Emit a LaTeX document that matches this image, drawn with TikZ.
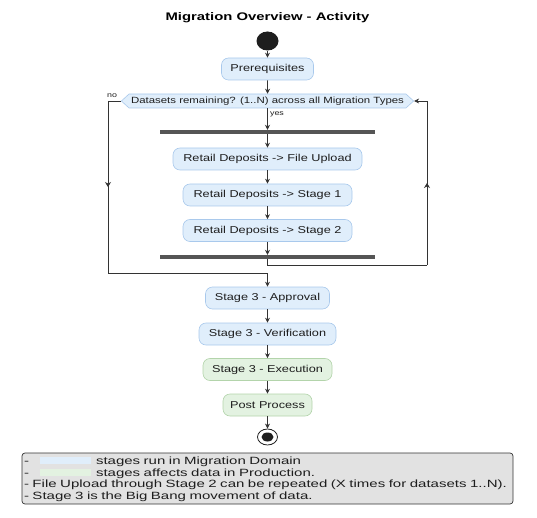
\documentclass[tikz,border=0pt]{standalone}
\usepackage{fontspec}
\setmainfont{Liberation Sans}
\newfontfamily\titlefont{Liberation Sans}[FakeStretch=1.35]
\newfontfamily\boxfont{Liberation Sans}[FakeStretch=1.27]
\newfontfamily\notefont{Liberation Sans}[FakeStretch=1.43]
\usetikzlibrary{arrows.meta,shapes.geometric,shapes.symbols,decorations.markings}
\definecolor{stageblue}{HTML}{E0EEFB}
\definecolor{stagebluerim}{HTML}{A9C9EC}
\definecolor{stagegreen}{HTML}{E3F2E1}
\definecolor{stagegreenrim}{HTML}{B3D4AB}
\definecolor{notegray}{HTML}{E2E2E2}
\definecolor{linegray}{HTML}{333333}
\definecolor{bargray}{HTML}{555555}
\definecolor{textgray}{HTML}{1E1E1E}
\newcommand\swatch[1]{\textcolor{#1}{\rule[0.5pt]{51pt}{7pt}}}
\tikzset{
  stage/.style={draw=stagebluerim, fill=stageblue, rounded corners=7pt, line width=0.6pt,
    minimum height=22pt, inner sep=0pt, text=textgray, font=\boxfont\fontsize{10}{12}\selectfont},
  prodstage/.style={stage, draw=stagegreenrim, fill=stagegreen},
  decision/.style={signal, signal to=west and east, signal pointer angle=85, draw=stagebluerim,
    fill=stageblue, line width=0.6pt, minimum height=14pt, inner ysep=1pt, inner xsep=2pt,
    text=textgray, font=\boxfont\fontsize{9}{10}\selectfont},
  bar/.style={fill=bargray, minimum width=215pt, minimum height=4pt, inner sep=0pt},
  tag/.style={inner sep=0pt, text=textgray, font=\boxfont\fontsize{7}{8}\selectfont},
  flow/.style={draw=linegray, line width=0.7pt, -{Stealth[length=5pt,width=5pt]}},
  line/.style={draw=linegray, line width=0.7pt},
  midarrow/.style={postaction={decorate}, decoration={markings,
    mark=at position 0.5 with {\arrow{Stealth[length=5pt,width=6pt]}}}},
}
\begin{document}
\begin{tikzpicture}[x=1pt, y=-1pt]
      \useasboundingbox (0,0) rectangle (537,518);
      \node[font=\titlefont\bfseries\fontsize{11}{13}\selectfont] (title) at (267.5,18){Migration Overview - Activity};
      \node[ellipse, fill=textgray, minimum width=22pt, minimum height=19pt, inner sep=0pt] (start) at (267.5,41){};
      \node[stage, minimum width=92pt] (prereq) at (267.5,69){Prerequisites};
      \node[decision] (dec) at (267.5,101){Datasets remaining? (1..N) across all Migration Types};
      \node[tag] (no) at (112,96){no};
      \node[tag] (yes) at (277,114){yes};
      \node[bar] (fork) at (267.5,132){};
      \node[stage, minimum width=189pt] (upload) at (267.5,159){Retail Deposits -> File Upload};
      \node[stage, minimum width=169pt] (stageone) at (267.5,195){Retail Deposits -> Stage 1};
      \node[stage, minimum width=169pt] (stagetwo) at (267.5,230.5){Retail Deposits -> Stage 2};
      \node[bar] (join) at (267.5,257){};
      \node[stage, minimum width=124pt] (approval) at (267.5,298){Stage 3 - Approval};
      \node[stage, minimum width=137pt] (verify) at (267.5,334){Stage 3 - Verification};
      \node[prodstage, minimum width=129pt] (execute) at (267.5,369.5){Stage 3 - Execution};
      \node[prodstage, minimum width=89pt] (post) at (267.5,405){Post Process};
      \node[ellipse, draw=textgray, fill=white, line width=0.8pt, minimum width=20pt, minimum height=16pt, inner sep=0pt] (stop) at (267.5,437){};
      \node[ellipse, fill=textgray, minimum width=12pt, minimum height=9pt, inner sep=0pt] (stopdot) at (stop){};
      \node[draw=linegray, fill=notegray, rounded corners=3pt, line width=0.7pt, minimum width=491pt, minimum height=51pt,
        text width=487pt, align=left, inner sep=2pt, text=textgray, font=\notefont\fontsize{10.5}{11.7}\selectfont] (note) at (267.5,478.5){%
        \rule{0pt}{9pt}-\hspace{11pt}\swatch{stageblue}\hspace{5pt}stages run in Migration Domain\\
        -\hspace{11pt}\swatch{stagegreen}\hspace{5pt}stages affects data in Production.\\
        - File Upload through Stage 2 can be repeated (X times for datasets 1..N).\\
        - Stage 3 is the Big Bang movement of data.};
      \coordinate (noTop) at (108,101);
      \coordinate (noBot) at (108,273);
      \coordinate (noJoin) at (267.5,273);
      \coordinate (backBot) at (427,265);
      \coordinate (backTop) at (427,101);
      \coordinate (backJoin) at (267.5,265);
      \draw[flow] (start) to (prereq);
      \draw[flow] (prereq) to (dec);
      \draw[flow] (dec.south) to (fork.north);
      \draw[flow] (fork.south) to (upload.north);
      \draw[flow] (upload) to (stageone);
      \draw[flow] (stageone) to (stagetwo);
      \draw[flow] (stagetwo.south) to (join.north);
      \draw[line] (join.south) to (backJoin) to (backBot);
      \draw[line, midarrow] (backBot) to (backTop);
      \draw[flow] (backTop) to (dec.east);
      \draw[line] (dec.west) to (noTop);
      \draw[line, midarrow] (noTop) to (noBot);
      \draw[line] (noBot) to (noJoin);
      \draw[flow] (noJoin) to (approval.north);
      \draw[flow] (approval) to (verify);
      \draw[flow] (verify) to (execute);
      \draw[flow] (execute) to (post);
      \draw[flow] (post) to (stop);
    \end{tikzpicture}
\end{document}
